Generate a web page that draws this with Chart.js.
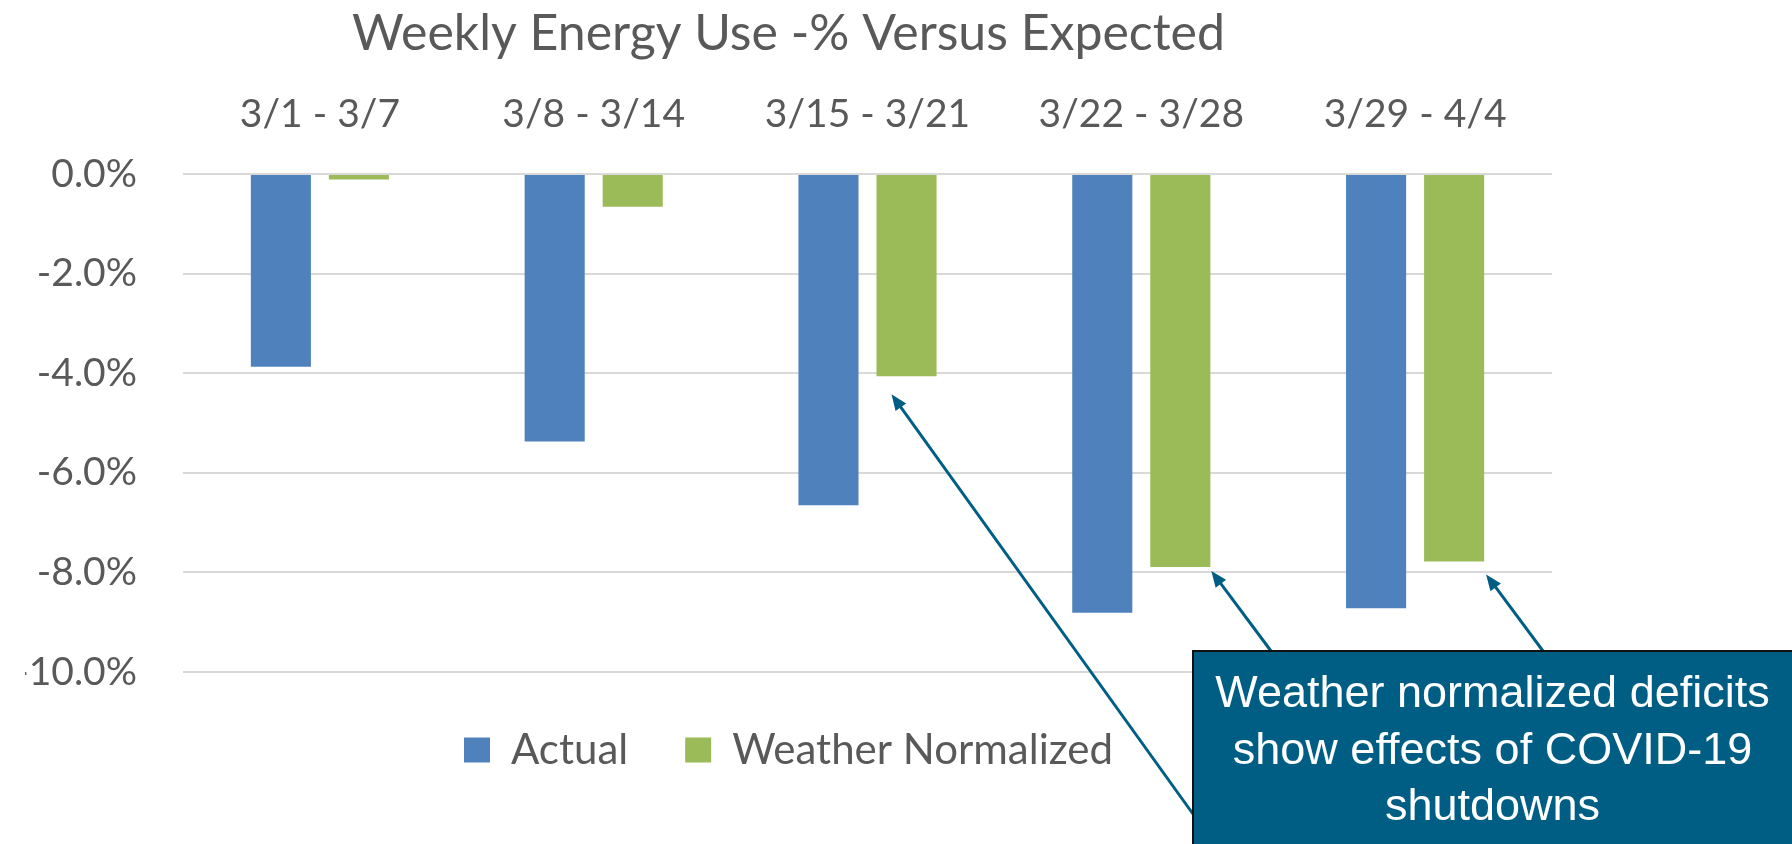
<!DOCTYPE html>
<html>
<head>
<meta charset="utf-8">
<script src="https://cdn.jsdelivr.net/npm/chart.js@4.4.1/dist/chart.umd.min.js"></script>
<style>
  html, body { margin: 0; padding: 0; background: #fff; }
  #wrap { width: 1792px; height: 844px; }
</style>
</head>
<body>
<div id="wrap"><canvas id="energyChart" width="1792" height="844"></canvas></div>
<script>
const weeks = ['3/1 - 3/7', '3/8 - 3/14', '3/15 - 3/21', '3/22 - 3/28', '3/29 - 4/4'];
const actual = [-3.87, -5.37, -6.65, -8.81, -8.72];
const weatherNormalized = [-0.11, -0.66, -4.06, -7.89, -7.78];
const yTicks = [0, -2, -4, -6, -8, -10];
const calloutLines = ['Weather normalized deficits', 'show effects of COVID-19', 'shutdowns'];

const grey = '#595959';
const calloutBlue = '#005e84';

function drawArrow(ctx, x1, y1, x2, y2) {
  const ang = Math.atan2(y2 - y1, x2 - x1);
  const len = 16, half = 6.5;
  ctx.beginPath();
  ctx.moveTo(x1, y1);
  ctx.lineTo(x2 - Math.cos(ang) * len * 0.8, y2 - Math.sin(ang) * len * 0.8);
  ctx.stroke();
  ctx.beginPath();
  ctx.moveTo(x2, y2);
  ctx.lineTo(x2 - Math.cos(ang) * len - Math.sin(ang) * half, y2 - Math.sin(ang) * len + Math.cos(ang) * half);
  ctx.lineTo(x2 - Math.cos(ang) * len + Math.sin(ang) * half, y2 - Math.sin(ang) * len - Math.cos(ang) * half);
  ctx.closePath();
  ctx.fill();
}

// text box + arrows pointing at the weather normalized bars
const callout = {
  id: 'callout',
  afterDraw(chart) {
    const ctx = chart.ctx;
    const bars = chart.getDatasetMeta(1).data;
    const box = { x: 1193, y: 651, w: 640, h: 240 };
    const arrows = [
      { x: box.x, y: 814, bar: bars[2], dx: -15, dy: 18 },
      { x: 1271, y: box.y, bar: bars[3], dx: 31, dy: 4 },
      { x: 1543, y: box.y, bar: bars[4], dx: 32, dy: 13 }
    ];
    ctx.save();
    ctx.strokeStyle = calloutBlue;
    ctx.fillStyle = calloutBlue;
    ctx.lineWidth = 3;
    arrows.forEach(a => drawArrow(ctx, a.x, a.y, a.bar.x + a.dx, a.bar.y + a.dy));

    ctx.fillStyle = calloutBlue;
    ctx.fillRect(box.x, box.y, box.w, box.h);
    ctx.strokeStyle = '#111';
    ctx.lineWidth = 2;
    ctx.strokeRect(box.x, box.y, box.w, box.h);

    ctx.fillStyle = '#fff';
    ctx.font = '45px "Liberation Sans", Arial, sans-serif';
    ctx.textAlign = 'center';
    ctx.textBaseline = 'middle';
    const cx = box.x + (1792 - box.x) / 2;
    calloutLines.forEach((line, i) => ctx.fillText(line, cx, 695 + i * 56.5));
    ctx.restore();
  }
};

const ctx = document.getElementById('energyChart').getContext('2d');
const chart = new Chart(ctx, {
  type: 'bar',
  data: {
    labels: weeks,
    datasets: [{
      label: 'Actual',
      data: actual,
      backgroundColor: '#4f81bd',
      borderWidth: 0,
      categoryPercentage: 0.57,
      barPercentage: 0.77
    }, {
      label: 'Weather Normalized',
      data: weatherNormalized,
      backgroundColor: '#9bbb59',
      borderWidth: 0,
      categoryPercentage: 0.57,
      barPercentage: 0.77
    }]
  },
  options: {
    responsive: false,
    animation: false,
    devicePixelRatio: 1,
    layout: { padding: { left: 25, right: 240, top: 0, bottom: 63 } },
    plugins: {
      title: {
        display: true,
        text: 'Weekly Energy Use -% Versus Expected',
        color: grey,
        font: { family: 'Lato', size: 50, weight: 'normal' },
        padding: { top: 4, bottom: 0 }
      },
      legend: {
        position: 'bottom',
        labels: {
          color: grey,
          font: { family: 'Lato', size: 42 },
          boxWidth: 26,
          boxHeight: 25,
          padding: 57
        }
      },
      tooltip: { enabled: false }
    },
    scales: {
      x: {
        position: 'top',
        grid: { display: false, drawTicks: false },
        border: { display: false },
        ticks: { color: grey, font: { family: 'Lato', size: 39 }, padding: 36, maxRotation: 0 },
        afterFit: s => { s.height = 110; }
      },
      y: {
        min: -10,
        max: 0,
        grid: { color: '#d9d9d9', lineWidth: 2, drawTicks: false },
        border: { display: false },
        ticks: {
          color: grey,
          font: { family: 'Lato', size: 39 },
          padding: 46,
          callback: v => v.toFixed(1) + '%'
        },
        afterBuildTicks: s => { s.ticks = yTicks.map(v => ({ value: v })); },
        afterFit: s => { s.width = 158; }
      }
    }
  },
  plugins: [callout]
});
</script>
</body>
</html>
